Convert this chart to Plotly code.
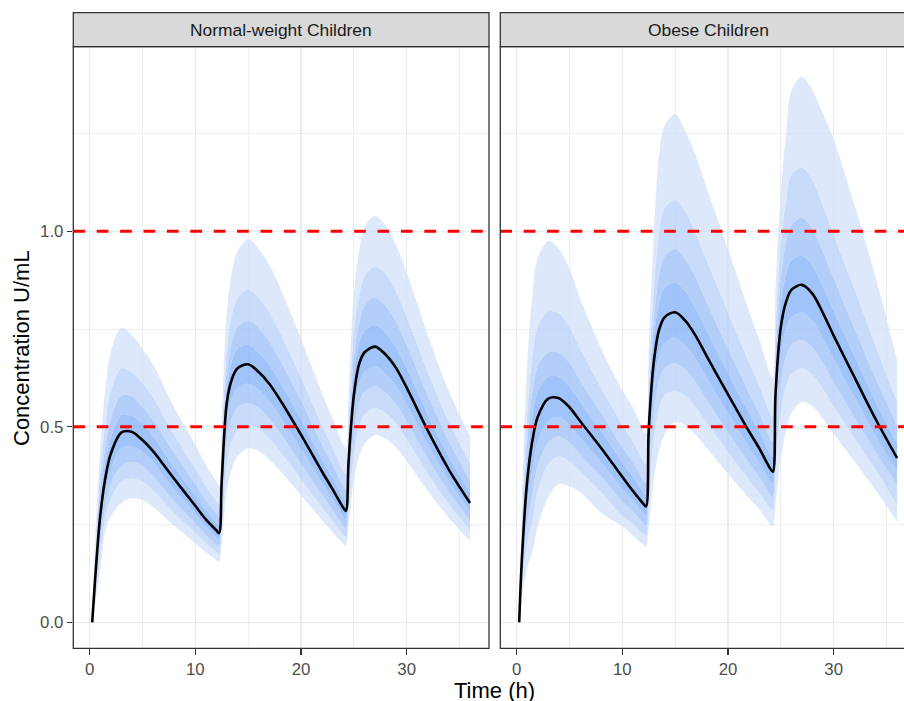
import plotly.graph_objects as go

# ---------------- data ----------------
TIME = [0.25, 0.5, 1, 1.5, 2, 3, 4, 5, 6, 8, 10, 11, 12, 12.25, 12.5, 13, 13.5, 14, 15, 16, 17,
        18, 20, 22, 23, 24, 24.25, 24.5, 25, 25.5, 26, 27, 28, 29, 30, 32, 34, 36]

PANELS = ["Normal-weight Children", "Obese Children"]

# Normal-weight children: quantile band edges (U1 outermost upper ... L1 outermost lower) and median
NW_U1 = [0, .20, .44, .60, .69, .753, .735, .70, .66, .55, .455, .403, .36, .348, .52, .80, .90, .95, .98, .955, .915,
         .858, .725, .585, .52, .455, .445, .58, .84, .95, 1.01, 1.04, 1.015, .965, .895, .735, .59, .475]
NW_U2 = [0, .16, .38, .51, .59, .65, .64, .612, .575, .48, .393, .348, .31, .30, .46, .70, .79, .83, .852, .83, .793,
         .742, .626, .503, .446, .388, .378, .51, .74, .835, .885, .91, .89, .845, .782, .64, .512, .405]
NW_U3 = [0, .14, .34, .45, .52, .58, .578, .55, .518, .433, .354, .313, .279, .27, .42, .645, .72, .755, .772, .753, .718,
         .672, .567, .455, .403, .349, .34, .47, .675, .765, .81, .83, .81, .768, .71, .58, .463, .362]
NW_U4 = [0, .12, .30, .41, .47, .53, .528, .508, .476, .397, .325, .287, .255, .247, .39, .605, .67, .70, .71, .69, .659,
         .616, .519, .416, .368, .318, .31, .44, .63, .715, .745, .76, .74, .703, .65, .531, .423, .331]
NW_MED = [0, .10, .27, .37, .43, .485, .487, .466, .438, .367, .298, .263, .235, .228, .36, .565, .625, .65, .66, .64, .61,
          .57, .48, .385, .34, .293, .285, .41, .58, .66, .69, .705, .685, .65, .60, .49, .39, .305]
NW_L4 = [0, .085, .24, .335, .39, .445, .45, .436, .41, .34, .278, .245, .218, .211, .32, .52, .575, .60, .61, .595, .566,
         .528, .444, .356, .314, .27, .263, .37, .535, .61, .64, .654, .636, .604, .557, .455, .362, .283]
NW_L3 = [0, .07, .21, .30, .355, .40, .41, .40, .375, .31, .253, .224, .199, .193, .28, .47, .525, .55, .561, .548, .521,
         .486, .407, .326, .287, .246, .24, .33, .485, .56, .59, .603, .588, .558, .514, .419, .333, .26]
NW_L2 = [0, .055, .17, .27, .315, .36, .368, .36, .338, .28, .229, .203, .18, .175, .24, .41, .465, .49, .505, .495, .47,
         .438, .366, .294, .259, .223, .217, .29, .43, .50, .53, .548, .535, .508, .468, .381, .302, .236]
NW_L1 = [0, .04, .13, .235, .27, .305, .317, .312, .295, .247, .202, .179, .159, .154, .20, .34, .395, .425, .445, .438, .416,
         .388, .325, .261, .23, .201, .196, .25, .36, .425, .455, .479, .47, .447, .412, .336, .267, .207]

# Obese children
OB_U1 = [0, .30, .66, .84, .93, .975, .955, .905, .83, .70, .594, .55, .492, .483, .70, 1.00, 1.20, 1.27, 1.30, 1.255, 1.19,
         1.11, .955, .795, .72, .634, .624, .85, 1.10, 1.25, 1.36, 1.395, 1.36, 1.30, 1.235, 1.065, .88, .671]
OB_U2 = [0, .25, .53, .68, .755, .795, .79, .755, .70, .60, .506, .463, .412, .403, .62, .86, 1.00, 1.06, 1.08, 1.05, .99,
         .925, .793, .664, .603, .534, .524, .75, .97, 1.08, 1.145, 1.163, 1.13, 1.065, .99, .85, .705, .564]
OB_U3 = [0, .21, .46, .59, .655, .69, .69, .663, .62, .535, .448, .41, .364, .356, .57, .78, .89, .935, .955, .928, .878,
         .817, .70, .586, .532, .471, .462, .68, .88, .975, 1.015, 1.035, 1.005, .947, .88, .75, .622, .503]
OB_U4 = [0, .19, .41, .53, .59, .628, .628, .603, .565, .49, .41, .373, .332, .325, .53, .73, .82, .855, .869, .845, .80,
         .746, .639, .535, .486, .43, .422, .635, .82, .89, .925, .938, .912, .858, .797, .68, .563, .457]
OB_MED = [0, .16, .36, .465, .525, .572, .573, .55, .515, .446, .372, .336, .303, .296, .49, .67, .75, .78, .793, .77, .73,
          .68, .583, .488, .443, .393, .385, .585, .755, .82, .85, .863, .84, .79, .733, .625, .518, .42]
OB_L4 = [0, .13, .30, .39, .46, .515, .525, .505, .473, .41, .341, .312, .278, .272, .43, .605, .685, .715, .728, .708, .672,
         .625, .535, .448, .407, .36, .353, .52, .685, .75, .78, .792, .771, .725, .673, .574, .476, .386]
OB_L3 = [0, .11, .25, .33, .40, .46, .475, .46, .43, .373, .31, .284, .253, .247, .37, .545, .62, .65, .662, .645, .612,
         .569, .487, .408, .37, .327, .321, .46, .615, .68, .71, .722, .703, .662, .614, .523, .434, .352]
OB_L2 = [0, .09, .20, .26, .335, .405, .424, .412, .386, .333, .272, .252, .225, .22, .31, .475, .55, .58, .592, .578, .548,
         .51, .436, .364, .33, .292, .287, .39, .54, .605, .635, .65, .633, .596, .553, .471, .39, .298]
OB_L1 = [0, .06, .14, .18, .245, .32, .354, .348, .333, .28, .245, .222, .198, .193, .24, .37, .44, .48, .512, .503, .478,
         .445, .38, .317, .288, .25, .245, .30, .42, .49, .535, .564, .552, .52, .482, .41, .337, .257]

THRESHOLDS = [0.5, 1.0]
X_TICKS = [0, 10, 20, 30]
Y_TICKS = [0.0, 0.5, 1.0]
Y_TICKTEXT = ["0.0", "0.5", "1.0"]

# ---------------- style / geometry (page pixels) ----------------
FONT = "Liberation Sans, Arial, Helvetica, sans-serif"
BAND_COLORS = ["rgba(210,226,250,0.75)", "rgba(182,207,248,0.75)",
               "rgba(154,190,247,0.75)", "rgba(128,175,247,0.75)"]
W, H = 904, 701
PX_L = [73.3, 489.0]
PX_R = [500.3, 904.0]
PY_TOP, PY_BOT = 46.7, 648.3
STRIP_TOP = 12.7
X_RANGE_L = [-1.5375, 37.7875]
UNIT = (PX_L[1] - PX_L[0]) / (X_RANGE_L[1] - X_RANGE_L[0])
X_RANGE_R = [-1.5375, -1.5375 + (PX_R[1] - PX_R[0]) / UNIT]
Y_RANGE = [-0.0665, 1.4721]


def fx(px):
    return px / W


def fy(py):
    return 1 - py / H


fig = go.Figure()

panels = [
    ("x", "y", [NW_L1, NW_L2, NW_L3, NW_L4, NW_U4, NW_U3, NW_U2, NW_U1], NW_MED),
    ("x2", "y2", [OB_L1, OB_L2, OB_L3, OB_L4, OB_U4, OB_U3, OB_U2, OB_U1], OB_MED),
]
fill_cols = [None, BAND_COLORS[0], BAND_COLORS[1], BAND_COLORS[2], BAND_COLORS[3],
             BAND_COLORS[2], BAND_COLORS[1], BAND_COLORS[0]]
for xa, ya, edges, med in panels:
    for edge, fc in zip(edges, fill_cols):
        fig.add_trace(go.Scatter(
            x=TIME, y=edge, xaxis=xa, yaxis=ya, mode="lines",
            line=dict(width=0, shape="spline", smoothing=0.9),
            fill=None if fc is None else "tonexty",
            fillcolor=fc, showlegend=False, hoverinfo="skip"))
    fig.add_trace(go.Scatter(
        x=TIME, y=med, xaxis=xa, yaxis=ya, mode="lines",
        line=dict(color="black", width=2.6, shape="spline", smoothing=0.9),
        showlegend=False))

axis_common = dict(
    showgrid=True, gridcolor="#EBEBEB", gridwidth=1.4, zeroline=False,
    showline=False, ticks="outside", ticklen=5.5, tickwidth=1.1, tickcolor="#333333",
    tickfont=dict(family=FONT, size=16.8, color="#4D4D4D"),
)
minor_x = dict(dtick=5, tick0=0, showgrid=True, gridcolor="#EBEBEB", gridwidth=0.8)
minor_y = dict(dtick=0.25, tick0=0, showgrid=True, gridcolor="#EBEBEB", gridwidth=0.8)
fig.update_layout(
    width=W, height=H, autosize=False,
    margin=dict(l=0, r=0, t=0, b=0, pad=0),
    paper_bgcolor="white", plot_bgcolor="white",
    xaxis=dict(domain=[fx(PX_L[0]), fx(PX_L[1])], range=X_RANGE_L, tickvals=X_TICKS,
               minor=minor_x, anchor="y", **axis_common),
    xaxis2=dict(domain=[fx(PX_R[0]), min(1.0, fx(PX_R[1]))], range=X_RANGE_R, tickvals=X_TICKS,
                minor=minor_x, anchor="y2", **axis_common),
    yaxis=dict(domain=[fy(PY_BOT), fy(PY_TOP)], range=Y_RANGE, tickvals=Y_TICKS,
               ticktext=Y_TICKTEXT, minor=minor_y, anchor="x", **axis_common),
    yaxis2=dict(domain=[fy(PY_BOT), fy(PY_TOP)], range=Y_RANGE, tickvals=Y_TICKS,
                showticklabels=False, minor=minor_y, anchor="x2",
                **{**axis_common, "ticks": ""}),
)

shapes = []
for xr, yr in (("x domain", "y"), ("x2 domain", "y2")):
    for t in THRESHOLDS:
        shapes.append(dict(type="line", xref=xr, yref=yr, x0=0, x1=1, y0=t, y1=t,
                           line=dict(color="#FF0000", width=3, dash="11.7px,11.7px"), layer="above"))
# panel borders
shapes.append(dict(type="rect", xref="paper", yref="paper",
                   x0=fx(PX_L[0]), x1=fx(PX_L[1]), y0=fy(PY_BOT), y1=fy(PY_TOP),
                   line=dict(color="#333333", width=1.3), fillcolor="rgba(0,0,0,0)", layer="above"))
shapes.append(dict(type="rect", xref="paper", yref="paper",
                   x0=fx(PX_R[0]), x1=1.03, y0=fy(PY_BOT), y1=fy(PY_TOP),
                   line=dict(color="#333333", width=1.3), fillcolor="rgba(0,0,0,0)", layer="above"))
# facet strips
shapes.append(dict(type="rect", xref="paper", yref="paper",
                   x0=fx(PX_L[0]), x1=fx(PX_L[1]), y0=fy(PY_TOP), y1=fy(STRIP_TOP),
                   line=dict(color="#333333", width=1.3), fillcolor="#D9D9D9", layer="above"))
shapes.append(dict(type="rect", xref="paper", yref="paper",
                   x0=fx(PX_R[0]), x1=1.03, y0=fy(PY_TOP), y1=fy(STRIP_TOP),
                   line=dict(color="#333333", width=1.3), fillcolor="#D9D9D9", layer="above"))
fig.update_layout(shapes=shapes)

strip_y = fy((PY_TOP + STRIP_TOP) / 2)
right_full = PX_R[0] + (X_RANGE_L[1] - X_RANGE_L[0]) * UNIT
annotations = [
    dict(text=PANELS[0], x=fx((PX_L[0] + PX_L[1]) / 2), y=strip_y, xref="paper", yref="paper",
         showarrow=False, xanchor="center", yanchor="middle",
         font=dict(family=FONT, size=17.4, color="#1A1A1A")),
    dict(text=PANELS[1], x=fx((PX_R[0] + right_full) / 2), y=strip_y, xref="paper", yref="paper",
         showarrow=False, xanchor="center", yanchor="middle",
         font=dict(family=FONT, size=17.4, color="#1A1A1A")),
    dict(text="Time (h)", x=fx((PX_L[0] + right_full) / 2), y=fy(690), xref="paper", yref="paper",
         showarrow=False, xanchor="center", yanchor="middle",
         font=dict(family=FONT, size=22, color="black")),
    dict(text="Concentration U/mL", x=fx(21.7), y=fy(348.3), xref="paper", yref="paper",
         showarrow=False, xanchor="center", yanchor="middle", textangle=-90,
         font=dict(family=FONT, size=22, color="black")),
]
fig.update_layout(annotations=annotations)

fig.write_html(
    "out.html",
    config={"displayModeBar": False, "staticPlot": True},
    post_script="document.body.style.margin='0';document.body.style.padding='0';"
                "document.documentElement.style.overflow='hidden';",
)
